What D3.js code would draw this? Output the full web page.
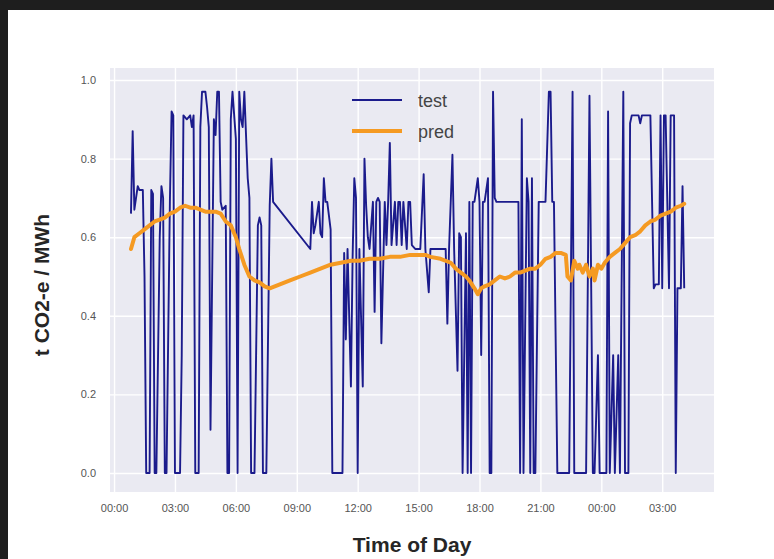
<!DOCTYPE html>
<html>
<head>
<meta charset="utf-8">
<script src="https://cdn.jsdelivr.net/npm/d3@7"></script>
<style>
  html, body { margin: 0; padding: 0; background: #1e1e1e; }
  svg { display: block; }
</style>
</head>
<body>
<svg id="chart" width="774" height="559"></svg>
<script>
// Measured carbon intensity (test) and model prediction (pred),
// times given in minutes after 00:00 of the first day.
const testMinutes = [
  50, 55, 60, 70, 75, 85, 90, 95, 105, 110, 115, 120, 125, 135, 140, 145, 150, 155, 165, 170,
  175, 180, 185, 195, 200, 205, 215, 225, 230, 235, 240, 250, 255, 260, 270, 275, 280, 285, 295, 300,
  305, 310, 315, 320, 330, 335, 340, 345, 350, 360, 365, 370, 375, 380, 385, 395, 400, 405, 410, 415,
  425, 430, 435, 440, 445, 450, 460, 465, 470, 580, 585, 590, 595, 605, 610, 615, 620, 625, 630, 640,
  645, 650, 660, 670, 675, 680, 685, 690, 700, 705, 710, 715, 720, 725, 735, 740, 745, 750, 755, 765,
  770, 775, 780, 785, 790, 800, 805, 810, 815, 820, 830, 835, 840, 845, 850, 855, 865, 870, 875, 880,
  890, 900, 905, 915, 920, 930, 935, 950, 965, 980, 985, 990, 1000, 1005, 1015, 1020, 1025, 1030, 1040, 1045,
  1050, 1055, 1060, 1065, 1075, 1080, 1085, 1090, 1095, 1105, 1110, 1115, 1120, 1125, 1130, 1140, 1155, 1170, 1185, 1195,
  1200, 1205, 1210, 1220, 1225, 1230, 1235, 1240, 1245, 1255, 1265, 1275, 1285, 1290, 1295, 1300, 1310, 1320, 1325, 1335,
  1345, 1355, 1360, 1370, 1375, 1385, 1395, 1405, 1415, 1420, 1430, 1435, 1445, 1455, 1460, 1465, 1475, 1480, 1490, 1495,
  1505, 1510, 1520, 1525, 1530, 1540, 1550, 1555, 1560, 1570, 1580, 1585, 1595, 1600, 1610, 1615, 1620, 1625, 1630, 1640,
  1645, 1650, 1655, 1660, 1665, 1675, 1680, 1685
];
const testValues = [
  0.66, 0.87, 0.67, 0.73, 0.72, 0.72, 0.50, 0.00, 0.00, 0.72, 0.71, 0.00, 0.00, 0.60, 0.73, 0.70, 0.00, 0.00, 0.69, 0.92,
  0.91, 0.00, 0.00, 0.00, 0.30, 0.91, 0.90, 0.91, 0.88, 0.91, 0.00, 0.00, 0.88, 0.97, 0.97, 0.93, 0.88, 0.11, 0.90, 0.86,
  0.97, 0.97, 0.69, 0.67, 0.68, 0.00, 0.00, 0.90, 0.97, 0.85, 0.00, 0.97, 0.90, 0.88, 0.97, 0.75, 0.70, 0.00, 0.00, 0.00,
  0.63, 0.65, 0.63, 0.00, 0.00, 0.00, 0.68, 0.80, 0.69, 0.57, 0.69, 0.61, 0.63, 0.69, 0.61, 0.60, 0.75, 0.69, 0.69, 0.62,
  0.00, 0.00, 0.00, 0.00, 0.00, 0.56, 0.34, 0.57, 0.22, 0.55, 0.75, 0.70, 0.00, 0.57, 0.22, 0.80, 0.68, 0.60, 0.57, 0.69,
  0.41, 0.69, 0.70, 0.69, 0.33, 0.69, 0.58, 0.69, 0.84, 0.58, 0.69, 0.58, 0.69, 0.69, 0.58, 0.69, 0.57, 0.69, 0.69, 0.58,
  0.57, 0.57, 0.57, 0.76, 0.57, 0.46, 0.57, 0.57, 0.57, 0.57, 0.38, 0.57, 0.81, 0.57, 0.26, 0.61, 0.60, 0.00, 0.61, 0.00,
  0.69, 0.00, 0.69, 0.69, 0.75, 0.69, 0.30, 0.69, 0.69, 0.75, 0.00, 0.00, 0.97, 0.70, 0.69, 0.69, 0.69, 0.69, 0.69, 0.69,
  0.00, 0.90, 0.00, 0.75, 0.69, 0.00, 0.75, 0.00, 0.00, 0.69, 0.69, 0.69, 0.97, 0.97, 0.69, 0.69, 0.00, 0.00, 0.00, 0.00,
  0.00, 0.97, 0.00, 0.00, 0.00, 0.00, 0.00, 0.96, 0.00, 0.00, 0.30, 0.00, 0.00, 0.00, 0.92, 0.00, 0.30, 0.00, 0.30, 0.00,
  0.97, 0.00, 0.00, 0.89, 0.91, 0.91, 0.91, 0.89, 0.91, 0.91, 0.91, 0.91, 0.47, 0.48, 0.48, 0.91, 0.47, 0.91, 0.91, 0.47,
  0.91, 0.91, 0.91, 0.00, 0.47, 0.47, 0.73, 0.47
];

const predMinutes = [
  50, 60, 75, 90, 105, 120, 135, 150, 165, 180, 195, 210, 225, 240, 255, 270, 285, 300, 315, 330,
  345, 360, 370, 385, 400, 415, 430, 445, 460, 475, 490, 505, 520, 550, 580, 610, 640, 670, 700, 725,
  755, 785, 815, 845, 875, 905, 920, 935, 965, 995, 1010, 1025, 1040, 1050, 1065, 1075, 1085, 1095, 1110, 1125,
  1140, 1155, 1170, 1185, 1200, 1215, 1230, 1245, 1260, 1275, 1290, 1305, 1320, 1335, 1340, 1350, 1360, 1370, 1375, 1385,
  1395, 1405, 1415, 1420, 1430, 1440, 1450, 1465, 1480, 1495, 1510, 1525, 1540, 1555, 1570, 1585, 1600, 1615, 1630, 1645,
  1660, 1675, 1685
];
const predValues = [
  0.57, 0.60, 0.61, 0.62, 0.63, 0.64, 0.645, 0.65, 0.66, 0.665, 0.675, 0.68, 0.675, 0.675, 0.67, 0.665, 0.665, 0.665, 0.66, 0.64,
  0.63, 0.60, 0.57, 0.53, 0.50, 0.49, 0.485, 0.475, 0.47, 0.475, 0.48, 0.485, 0.49, 0.50, 0.51, 0.52, 0.53, 0.535, 0.54, 0.54,
  0.545, 0.545, 0.55, 0.55, 0.555, 0.555, 0.555, 0.55, 0.545, 0.535, 0.52, 0.51, 0.50, 0.49, 0.47, 0.455, 0.47, 0.475, 0.48, 0.49,
  0.50, 0.495, 0.50, 0.51, 0.51, 0.515, 0.52, 0.52, 0.53, 0.545, 0.55, 0.56, 0.56, 0.555, 0.50, 0.49, 0.54, 0.52, 0.53, 0.51,
  0.53, 0.50, 0.52, 0.49, 0.53, 0.52, 0.535, 0.55, 0.56, 0.57, 0.585, 0.60, 0.605, 0.615, 0.63, 0.64, 0.645, 0.655, 0.66, 0.665,
  0.675, 0.68, 0.685
];

const yTickValues = [0.0, 0.2, 0.4, 0.6, 0.8, 1.0];
const seriesNames = ["test", "pred"];
const seriesColors = ["#1b1b8c", "#f59a22"];
const xLabel = "Time of Day";
const yLabel = "t CO2-e / MWh";

const dayStart = new Date(2017, 0, 1, 0, 0);
const toDate = m => new Date(dayStart.getTime() + m * 60000);

const svg = d3.select("#chart");

// page background (framed)
svg.append("rect").attr("x", 8).attr("y", 10).attr("width", 766).attr("height", 549).attr("fill", "#ffffff");

const plot = { left: 110, right: 714, top: 68, bottom: 492 };

const x = d3.scaleTime()
  .domain([toDate(-12), toDate(1773)])
  .range([plot.left, plot.right]);
const y = d3.scaleLinear()
  .domain([-0.0483, 1.0305])
  .range([plot.bottom, plot.top]);

// axes background
svg.append("rect")
  .attr("x", plot.left).attr("y", plot.top)
  .attr("width", plot.right - plot.left).attr("height", plot.bottom - plot.top)
  .attr("fill", "#eaeaf2");

const xTicks = d3.timeHour.every(3);

// grid lines
const gx = svg.append("g")
  .attr("transform", `translate(0,${plot.bottom})`)
  .call(d3.axisBottom(x).ticks(xTicks).tickSize(-(plot.bottom - plot.top)).tickFormat(""));
const gy = svg.append("g")
  .attr("transform", `translate(${plot.left},0)`)
  .call(d3.axisLeft(y).tickValues(yTickValues).tickSize(-(plot.right - plot.left)).tickFormat(""));
[gx, gy].forEach(g => {
  g.select(".domain").remove();
  g.selectAll(".tick line").attr("stroke", "#ffffff").attr("stroke-width", 1.4);
});

// tick labels
const ax = svg.append("g")
  .attr("transform", `translate(0,${plot.bottom})`)
  .call(d3.axisBottom(x).ticks(xTicks).tickSize(0).tickPadding(12).tickFormat(d3.timeFormat("%H:%M")));
const ay = svg.append("g")
  .attr("transform", `translate(${plot.left},0)`)
  .call(d3.axisLeft(y).tickValues(yTickValues).tickSize(0).tickPadding(14).tickFormat(d3.format(".1f")));
[ax, ay].forEach(g => {
  g.select(".domain").remove();
  g.selectAll("text")
    .attr("fill", "#555555")
    .style("font-family", "'Liberation Sans', Arial, sans-serif")
    .style("font-size", "11px");
});

// series
const testData = testMinutes.map((m, i) => ({ t: toDate(m), v: testValues[i] }));
const predData = predMinutes.map((m, i) => ({ t: toDate(m), v: predValues[i] }));
const line = d3.line().x(d => x(d.t)).y(d => y(d.v));

svg.append("path")
  .datum(testData)
  .attr("d", line)
  .attr("fill", "none")
  .attr("stroke", seriesColors[0])
  .attr("stroke-width", 1.9)
  .attr("stroke-linejoin", "round");

svg.append("path")
  .datum(predData)
  .attr("d", line)
  .attr("fill", "none")
  .attr("stroke", seriesColors[1])
  .attr("stroke-width", 4)
  .attr("stroke-linejoin", "round")
  .attr("stroke-linecap", "round");

// legend
const legend = svg.append("g").attr("transform", "translate(352,100)");
seriesNames.forEach((name, i) => {
  const row = legend.append("g").attr("transform", `translate(0,${i * 31})`);
  row.append("line")
    .attr("x1", 0).attr("x2", 50).attr("y1", 0).attr("y2", 0)
    .attr("stroke", seriesColors[i])
    .attr("stroke-width", i === 0 ? 2 : 4);
  row.append("text")
    .attr("x", 66).attr("y", 7)
    .attr("fill", "#444444")
    .style("font-family", "'Liberation Sans', Arial, sans-serif")
    .style("font-size", "18px")
    .text(name);
});

// axis titles
svg.append("text")
  .attr("x", (plot.left + plot.right) / 2).attr("y", 552)
  .attr("text-anchor", "middle")
  .attr("fill", "#262626")
  .style("font-family", "'Liberation Sans', Arial, sans-serif")
  .style("font-size", "21px")
  .style("font-weight", "bold")
  .text(xLabel);

svg.append("text")
  .attr("transform", "translate(49,285) rotate(-90)")
  .attr("text-anchor", "middle")
  .attr("fill", "#262626")
  .style("font-family", "'Liberation Sans', Arial, sans-serif")
  .style("font-size", "21px")
  .style("font-weight", "bold")
  .text(yLabel);
</script>
</body>
</html>
